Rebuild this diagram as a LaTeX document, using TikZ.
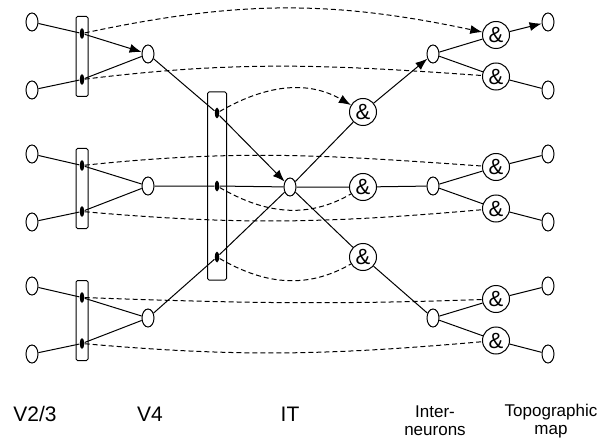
\documentclass[tikz,border=0pt]{standalone}
\usepackage{fontspec}
\setmainfont{Liberation Sans}
\usetikzlibrary{arrows.meta,shapes.geometric}

\begin{document}
\begin{tikzpicture}[x=1pt, y=1pt, line width=1pt,
  >={Latex[length=12pt,width=9pt]},
  cell/.style={draw, ellipse, minimum width=12, minimum height=18, inner sep=0},
  bar/.style={draw, rounded corners=1.5, minimum width=12, minimum height=80, inner sep=0},
  dot/.style={fill, ellipse, minimum width=4.5, minimum height=11, inner sep=0},
  andgate/.style={draw, circle, minimum size=27, inner sep=0, font=\fontsize{22}{22}\selectfont},
  layer/.style={font=\fontsize{21}{25}\selectfont},
  sublayer/.style={align=center, font=\fontsize{17}{18}\selectfont},
  link/.style={dash pattern=on 5pt off 3pt}]

\useasboundingbox (0,0) rectangle (608,440);

% V2/3, V4, interneurons and topographic map, one group per row
\foreach \g in {1,2,3}
{
   \pgfmathsetmacro\y{386-132*(\g-1)}
   \node[cell] (ina\g) at (32,\y+32) {};
   \node[cell] (inb\g) at (32,\y-36) {};
   \node[bar] (bar\g) at (82,\y-2.5) {};
   \node[dot] (da\g) at (82,\y+20.5) {};
   \node[dot] (db\g) at (82,\y-25.5) {};
   \node[cell] (v\g) at (148,\y) {};
   \node[cell] (n\g) at (433,\y) {};
   \node[andgate] (ra\g) at (496,\y+19) {\&};
   \node[andgate] (rb\g) at (496,\y-22.5) {\&};
   \node[cell] (ta\g) at (548,\y+32) {};
   \node[cell] (tb\g) at (548,\y-36) {};
   \draw (inb\g) -- (db\g) -- (v\g);
   \draw (n\g) -- (rb\g) -- (tb\g);
}

% IT
\node[bar, minimum width=19, minimum height=188] (barm) at (217,254) {};
\node[dot] (dm1) at (217,327) {};
\node[dot] (dm2) at (217,254) {};
\node[dot] (dm3) at (217,183) {};
\node[cell] (it) at (290,253) {};
\node[andgate] (ia1) at (363,328) {\&};
\node[andgate] (ia2) at (363,253) {\&};
\node[andgate] (ia3) at (363,183) {\&};

\foreach \g/\tip in {1/->,2/-,3/-}
{
   \draw[\tip] (ina\g) -- (da\g) -- (v\g);
   \draw[\tip] (v\g) -- (dm\g) -- (it);
   \draw[\tip] (it) -- (ia\g) -- (n\g);
   \draw[\tip] (n\g) -- (ra\g) -- (ta\g);
}

% dashed links
\draw[link,->] (da1) to[out=12, in=168] (ra1);
\draw[link] (db1) to[out=7, in=176] (rb1);
\draw[link] (da2) to[out=6, in=176] (ra2);
\draw[link] (db2) to[out=-5, in=-175] (rb2);
\draw[link] (da3) to[out=-2, in=-178] (ra3);
\draw[link] (db3) to[out=-5, in=-175] (rb3);
\draw[link,->] (dm1) to[out=30, in=150] (ia1);
\draw[link] (dm2) to[out=-30, in=-150] (ia2);
\draw[link] (dm3) to[out=-30, in=-150] (ia3);

\node[layer] (l1) at (35,26) {V2/3};
\node[layer] (l2) at (150,26) {V4};
\node[layer] (l3) at (290,26) {IT};
\node[sublayer] (l4) at (435,19) {Inter-\\neurons};
\node[sublayer] (l5) at (551,19) {Topographic\\map};

\end{tikzpicture}
\end{document}
